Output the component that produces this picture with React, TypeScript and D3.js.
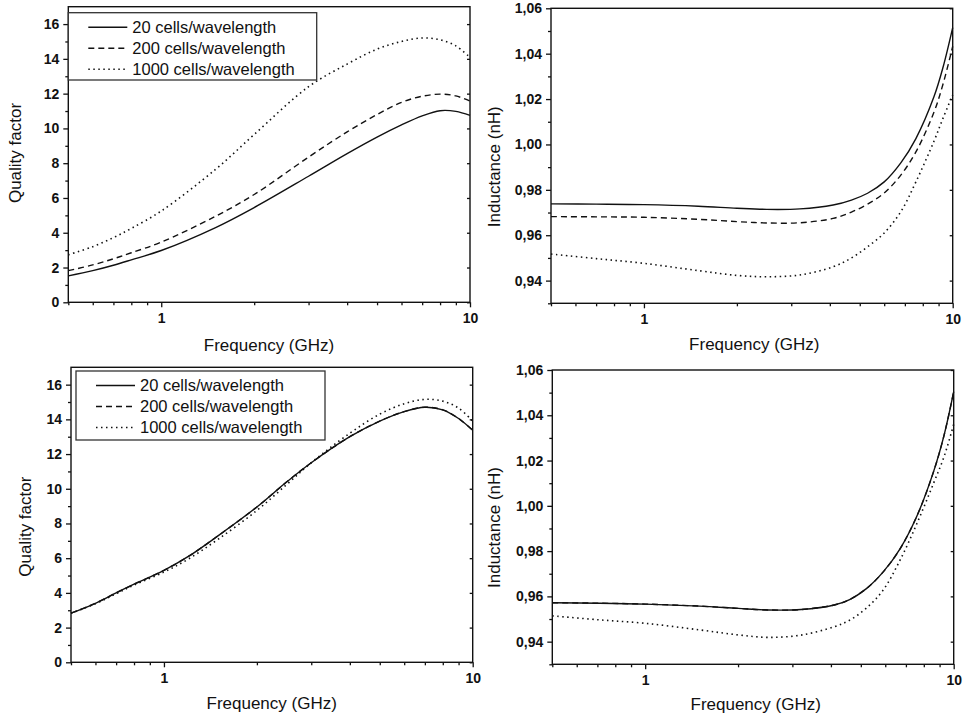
import React, { useRef, useEffect } from 'react';
import * as d3 from 'd3';

const seriesNames = ['20 cells/wavelength', '200 cells/wavelength', '1000 cells/wavelength'];

// top left: quality factor
const qTopFreq = [0.5, 0.6, 0.7, 0.8, 1, 1.5, 2, 3, 4, 5, 6, 7, 8, 9, 10];
const qTop20 = [1.52, 1.82, 2.13, 2.44, 2.98, 4.3, 5.45, 7.25, 8.55, 9.5, 10.2, 10.72, 11.02, 10.98, 10.75];
const qTop200 = [1.82, 2.15, 2.5, 2.85, 3.46, 4.95, 6.2, 8.35, 9.8, 10.8, 11.5, 11.85, 11.97, 11.87, 11.57];
const qTop1000 = [2.73, 3.2, 3.72, 4.25, 5.25, 7.65, 9.65, 12.4, 13.7, 14.56, 15.0, 15.2, 15.1, 14.75, 14.08];

// top right: inductance
const lTopFreq = [0.5, 0.7, 1, 1.5, 2, 2.5, 3.2, 4.1, 4.7, 5.3, 6, 6.8, 7.6, 8.7, 9.3, 10];
const lTop20 = [0.9738, 0.9737, 0.9735, 0.9728, 0.9719, 0.9714, 0.9716, 0.9733, 0.9755, 0.9785, 0.9835, 0.992, 1.0026, 1.0211, 1.0339, 1.0515];
const lTop200 = [0.9682, 0.9681, 0.9679, 0.967, 0.966, 0.9654, 0.9655, 0.9674, 0.9702, 0.9737, 0.9786, 0.9866, 0.9967, 1.0143, 1.0265, 1.0432];
const lTop1000 = [0.9517, 0.9497, 0.9476, 0.9444, 0.9423, 0.9417, 0.9425, 0.9461, 0.95, 0.9549, 0.961, 0.9705, 0.9835, 1.0015, 1.0115, 1.0218];

// bottom left: quality factor
const qBotFreq = [0.5, 0.6, 0.7, 0.8, 1, 1.2, 1.5, 2, 2.5, 3, 4, 5, 6, 7, 8, 9, 10];
const qBot20 = [2.83, 3.4, 4.0, 4.5, 5.3, 6.1, 7.3, 8.95, 10.4, 11.5, 13.0, 13.9, 14.45, 14.7, 14.55, 14.05, 13.37];
const qBot200 = [2.83, 3.4, 4.0, 4.5, 5.3, 6.1, 7.3, 8.95, 10.4, 11.5, 13.0, 13.9, 14.45, 14.7, 14.55, 14.05, 13.37];
const qBot1000 = [2.83, 3.38, 3.95, 4.45, 5.2, 5.95, 7.1, 8.75, 10.25, 11.5, 13.2, 14.3, 14.9, 15.15, 15.05, 14.65, 13.9];

// bottom right: inductance
const lBotFreq = [0.5, 0.7, 1, 1.5, 2, 2.5, 3.2, 4.1, 4.6, 5.2, 5.9, 6.7, 7.6, 8.6, 9.3, 10];
const lBot20 = [0.9572, 0.957, 0.9566, 0.9557, 0.9547, 0.954, 0.9542, 0.9562, 0.9586, 0.9633, 0.9707, 0.981, 0.9955, 1.015, 1.031, 1.0504];
const lBot200 = [0.9572, 0.957, 0.9566, 0.9557, 0.9547, 0.954, 0.9542, 0.9562, 0.9586, 0.9633, 0.9707, 0.981, 0.9955, 1.015, 1.031, 1.0504];
const lBot1000 = [0.9514, 0.9497, 0.9481, 0.9452, 0.943, 0.9419, 0.9429, 0.9466, 0.9495, 0.9547, 0.9627, 0.976, 0.9922, 1.0099, 1.0216, 1.036];

const xMajorTicks = [1, 10];
const xMinorTicks = [0.5, 0.6, 0.7, 0.8, 0.9, 2, 3, 4, 5, 6, 7, 8, 9];
const qMajorTicks = [0, 2, 4, 6, 8, 10, 12, 14, 16];
const qMinorTicks = [1, 3, 5, 7, 9, 11, 13, 15];
const lMajorTicks = [0.94, 0.96, 0.98, 1.0, 1.02, 1.04, 1.06];
const lMinorTicks = [0.93, 0.95, 0.97, 0.99, 1.01, 1.03, 1.05];

const dashes = [null, '6,4', '1.5,3.5'];
const font = '"Liberation Sans", Arial, sans-serif';

const panels = [
  {
    left: 68.3, top: 6.7, width: 401.7, height: 295.6,
    freq: qTopFreq, series: [qTop20, qTop200, qTop1000],
    yDomain: [0, 17], yMajor: qMajorTicks, yMinor: qMinorTicks, yFmt: d3.format('d'),
    yTitle: 'Quality factor', yTitleX: 20.5, yTitleY: 153,
    xTitleX: 269, xTitleY: 350.5,
    legend: { x: 68.3, y: 12.7, w: 248.4, h: 67.3 },
  },
  {
    left: 551, top: 8.3, width: 401.7, height: 295,
    freq: lTopFreq, series: [lTop20, lTop200, lTop1000],
    yDomain: [0.93, 1.06], yMajor: lMajorTicks, yMinor: lMinorTicks,
    yFmt: (d) => d3.format('.2f')(d).replace('.', ','),
    yTitle: 'Inductance (nH)', yTitleX: 499.5, yTitleY: 166.7,
    xTitleX: 754.3, xTitleY: 350,
    legend: null,
  },
  {
    left: 71, top: 367.3, width: 401.7, height: 295,
    freq: qBotFreq, series: [qBot20, qBot200, qBot1000],
    yDomain: [0, 17], yMajor: qMajorTicks, yMinor: qMinorTicks, yFmt: d3.format('d'),
    yTitle: 'Quality factor', yTitleX: 30.5, yTitleY: 526.7,
    xTitleX: 271.7, xTitleY: 709,
    legend: { x: 76, y: 371, w: 249, h: 69 },
  },
  {
    left: 552.3, top: 370, width: 401.4, height: 294.3,
    freq: lBotFreq, series: [lBot20, lBot200, lBot1000],
    yDomain: [0.93, 1.06], yMajor: lMajorTicks, yMinor: lMinorTicks,
    yFmt: (d) => d3.format('.2f')(d).replace('.', ','),
    yTitle: 'Inductance (nH)', yTitleX: 499.5, yTitleY: 527.5,
    xTitleX: 755.7, xTitleY: 710,
    legend: null,
  },
];

const styleAxis = (g) => {
  g.attr('font-family', font).attr('font-size', 14).attr('font-weight', 'bold');
  g.selectAll('line').attr('stroke', '#111').attr('stroke-width', 1.3);
  g.selectAll('text').attr('fill', '#111');
  g.select('.domain').remove();
};

function drawPanel(svg, p) {
  const x = d3.scaleLog().domain([0.5, 10]).range([p.left, p.left + p.width]);
  const y = d3.scaleLinear().domain(p.yDomain).range([p.top + p.height, p.top]);
  const bottom = p.top + p.height;
  const right = p.left + p.width;

  // ticks
  svg.append('g').attr('transform', `translate(0,${bottom})`)
    .call(d3.axisBottom(x).tickValues(xMajorTicks).tickSize(5).tickPadding(6).tickFormat(d3.format('d')))
    .call(styleAxis);
  svg.append('g').attr('transform', `translate(0,${bottom})`)
    .call(d3.axisBottom(x).tickValues(xMinorTicks).tickSize(3).tickFormat(() => ''))
    .call(styleAxis);
  svg.append('g').attr('transform', `translate(${p.left},0)`)
    .call(d3.axisLeft(y).tickValues(p.yMajor).tickSize(5).tickPadding(4).tickFormat(p.yFmt))
    .call(styleAxis);
  svg.append('g').attr('transform', `translate(${p.left},0)`)
    .call(d3.axisLeft(y).tickValues(p.yMinor).tickSize(3).tickFormat(() => ''))
    .call(styleAxis);
  // mirror ticks on the right edge, pointing in
  svg.append('g').attr('transform', `translate(${right},0)`)
    .call(d3.axisLeft(y).tickValues(p.yMajor).tickSize(3).tickFormat(() => ''))
    .call(styleAxis);

  // frame
  svg.append('rect')
    .attr('x', p.left).attr('y', p.top)
    .attr('width', p.width).attr('height', p.height)
    .attr('fill', 'none').attr('stroke', '#111').attr('stroke-width', 1.4);

  // curves
  const line = d3.line()
    .x((d) => x(d[0]))
    .y((d) => y(d[1]))
    .curve(d3.curveCatmullRom.alpha(0.5));

  [2, 1, 0].forEach((k) => {
    const pts = p.freq.map((f, i) => [f, p.series[k][i]]);
    svg.append('path')
      .datum(pts)
      .attr('fill', 'none')
      .attr('stroke', '#111')
      .attr('stroke-width', k === 2 ? 1.6 : 1.4)
      .attr('stroke-dasharray', dashes[k])
      .attr('d', line);
  });

  // axis titles
  svg.append('text')
    .attr('x', p.xTitleX).attr('y', p.xTitleY)
    .attr('text-anchor', 'middle')
    .attr('font-family', font).attr('font-size', 17)
    .attr('fill', '#111')
    .text('Frequency (GHz)');
  svg.append('text')
    .attr('transform', `translate(${p.yTitleX},${p.yTitleY}) rotate(-90)`)
    .attr('text-anchor', 'middle')
    .attr('font-family', font).attr('font-size', 17)
    .attr('fill', '#111')
    .text(p.yTitle);

  // legend
  if (p.legend) {
    const lg = p.legend;
    svg.append('rect')
      .attr('x', lg.x).attr('y', lg.y)
      .attr('width', lg.w).attr('height', lg.h)
      .attr('fill', 'white').attr('stroke', '#333').attr('stroke-width', 1.3);
    seriesNames.forEach((name, k) => {
      const cy = lg.y + 14.5 + k * 21;
      svg.append('line')
        .attr('x1', lg.x + 20).attr('x2', lg.x + 59)
        .attr('y1', cy).attr('y2', cy)
        .attr('stroke', '#111')
        .attr('stroke-width', k === 2 ? 1.6 : 1.4)
        .attr('stroke-dasharray', dashes[k]);
      svg.append('text')
        .attr('x', lg.x + 64).attr('y', cy)
        .attr('dy', '0.36em')
        .attr('font-family', font).attr('font-size', 16.5)
        .attr('fill', '#111')
        .text(name);
    });
  }
}

const App = () => {
  const chartRef = useRef(null);

  useEffect(() => {
    const svg = d3.select(chartRef.current);
    svg.selectAll('*').remove();
    panels.forEach((p) => drawPanel(svg, p));
  }, []);

  return (
    <svg
      ref={chartRef}
      width="963"
      height="724"
      style={{ position: 'absolute', left: 0, top: 0, background: 'white' }}
    ></svg>
  );
};

export default App;
